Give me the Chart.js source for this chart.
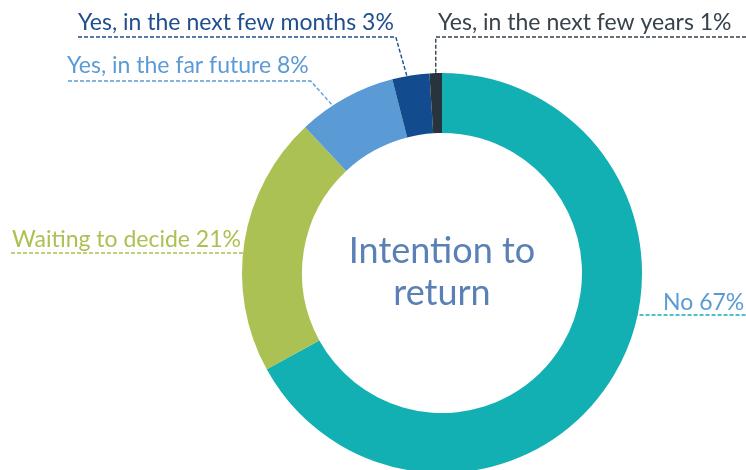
<!DOCTYPE html>
<html>
<head>
<meta charset="utf-8">
<title>Intention to return</title>
<script src="https://cdn.jsdelivr.net/npm/chart.js@4.4.1/dist/chart.umd.min.js"></script>
<style>
  html, body { margin: 0; padding: 0; background: #fff; overflow: hidden; }
  canvas { display: block; }
</style>
</head>
<body>
<canvas id="returnChart" width="746" height="470"></canvas>
<script>
// answers, in clockwise order from the top
const categories = ['No', 'Waiting to decide', 'Yes, in the far future', 'Yes, in the next few months', 'Yes, in the next few years'];
const shares = [67, 21, 8, 3, 1];
const centerTitle = ['Intention to', 'return'];

const sliceColors = ['#12afb3', '#abc153', '#5b9bd5', '#134c8e', '#27333d'];
const textColors = ['#5b9bd5', '#abc153', '#5b9bd5', '#1f4e8c', '#36424c'];
const leaderColors = ['#12afb3', '#abc153', '#5b9bd5', '#1f4e8c', '#36424c'];

// where each label sits and how its dashed leader runs to the ring
// side: 'left'/'right' = underline runs straight to the ring edge, 'mid' = bends toward the slice
const labelPlacement = [
  { x: 663, y: 310, lineY: 315, side: 'right', lineEnd: 746 },
  { x: 12, y: 247, lineY: 253, side: 'left', lineStart: 11 },
  { x: 67, y: 73, lineY: 81, side: 'mid', lineStart: 68, bend: 0.35 },
  { x: 78, y: 30, lineY: 37, side: 'mid', lineStart: 78, bend: 0.4 },
  { x: 438, y: 30, lineY: 37, side: 'mid', lineEnd: 746, bend: 0.5 }
];

const labelFont = '23px Lato';

const calloutPlugin = {
  id: 'callouts',
  afterDraw(chart) {
    const ctx = chart.ctx;
    const arcs = chart.getDatasetMeta(0).data;
    ctx.save();
    ctx.font = labelFont;
    ctx.textBaseline = 'alphabetic';
    ctx.textAlign = 'left';

    arcs.forEach((arc, i) => {
      const p = labelPlacement[i];
      const text = categories[i] + ' ' + shares[i] + '%';
      const w = ctx.measureText(text).width;
      const { x: cx, y: cy, startAngle, endAngle, outerRadius } =
        arc.getProps(['x', 'y', 'startAngle', 'endAngle', 'outerRadius'], true);

      ctx.fillStyle = textColors[i];
      ctx.fillText(text, p.x, p.y);

      ctx.strokeStyle = leaderColors[i];
      ctx.lineWidth = 1.4;
      ctx.setLineDash([4, 2]);
      ctx.beginPath();

      if (p.side === 'left' || p.side === 'right') {
        const dy = p.lineY - cy;
        const dx = Math.sqrt(Math.max(outerRadius * outerRadius - dy * dy, 0));
        if (p.side === 'left') {
          ctx.moveTo(p.lineStart, p.lineY);
          ctx.lineTo(cx - dx, p.lineY);
        } else {
          ctx.moveTo(cx + dx - 4, p.lineY);
          ctx.lineTo(p.lineEnd, p.lineY);
        }
      } else {
        // aim at a point on the slice, 'bend' of the way from its start edge
        const a = startAngle + (endAngle - startAngle) * p.bend;
        const ex = cx + Math.cos(a) * (outerRadius - 1);
        const ey = cy + Math.sin(a) * (outerRadius - 1);
        if (p.lineEnd !== undefined) {
          // underline to the right, drop down from its left end
          ctx.moveTo(p.lineEnd, p.lineY);
          ctx.lineTo(ex, p.lineY);
          ctx.lineTo(ex, ey);
        } else {
          const bx = p.x + w + 2;
          ctx.moveTo(p.lineStart, p.lineY);
          ctx.lineTo(bx, p.lineY);
          ctx.lineTo(ex, ey);
        }
      }
      ctx.stroke();
    });

    // title in the hole
    const { x: cx, y: cy } = arcs[0].getProps(['x', 'y'], true);
    ctx.setLineDash([]);
    ctx.font = '36px Lato';
    ctx.fillStyle = '#5b80b5';
    ctx.textAlign = 'center';
    ctx.fillText(centerTitle[0], cx, cy - 10);
    ctx.fillText(centerTitle[1], cx, cy + 32);
    ctx.restore();
  }
};

const ctx = document.getElementById('returnChart').getContext('2d');
const chart = new Chart(ctx, {
  type: 'doughnut',
  data: {
    labels: categories,
    datasets: [{
      data: shares,
      backgroundColor: sliceColors,
      borderWidth: 0
    }]
  },
  options: {
    responsive: false,
    animation: false,
    radius: 200,
    cutout: '70%',
    layout: {
      padding: { left: 138, top: 76, right: 0, bottom: 0 }
    },
    plugins: {
      legend: { display: false },
      tooltip: { enabled: false }
    }
  },
  plugins: [calloutPlugin]
});
</script>
</body>
</html>
